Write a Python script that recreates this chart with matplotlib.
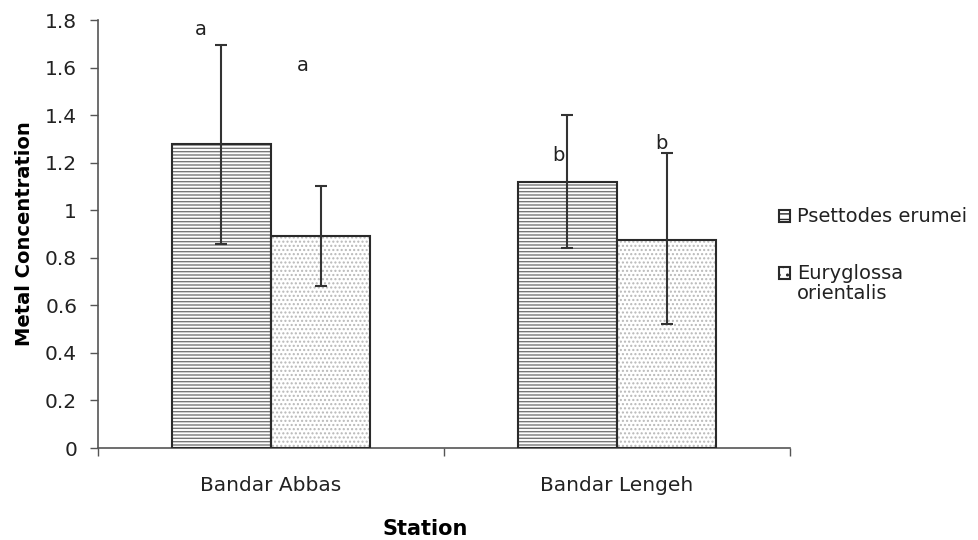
import matplotlib
matplotlib.use('Agg')
import matplotlib.pyplot as plt
import numpy as np

plt.rcParams['font.family'] = ['DejaVu Sans']

# data
stations = ['Bandar Abbas', 'Bandar Lengeh']
species = ['Psettodes erumei', 'Euryglossa\norientalis']
means = [[1.28, 1.12], [0.89, 0.875]]
err_hi = [[1.695, 1.40], [1.10, 1.24]]
err_lo = [[0.86, 0.84], [0.68, 0.52]]
letters = [['a', 'b'], ['a', 'b']]
letter_y = [[1.76, 1.23], [1.61, 1.28]]
letter_dx = [[-0.06, -0.026], [-0.052, -0.014]]

hatches = ['-----', '....']
hatch_cols = ['#787878', '#b8b8b8']
width = 0.287

fig = plt.figure(figsize=(9.79, 5.4), dpi=100)
ax = fig.add_axes([98/979, (540-448)/540, 692/979, 428/540])

x = np.arange(len(stations))
for i in range(len(species)):
    pos = x + (i - 0.5) * width
    m = np.array(means[i])
    ax.bar(pos, m, width, color='white', edgecolor=hatch_cols[i], hatch=hatches[i], linewidth=0, zorder=2)
    ax.bar(pos, m, width, fill=False, edgecolor='#2a2a2a', linewidth=1.5, zorder=3)
    yerr = [m - np.array(err_lo[i]), np.array(err_hi[i]) - m]
    ax.errorbar(pos, m, yerr=yerr, fmt='none', ecolor='#333333', elinewidth=1.5, capsize=4, capthick=1.5, zorder=4)
    for j in range(len(stations)):
        ax.text(pos[j] + letter_dx[i][j], letter_y[i][j], letters[i][j], fontsize=14, ha='center', va='center', color='#222222')

ax.set_xlim(-0.5, 1.5)
ax.set_ylim(0, 1.8)
ax.set_yticks(np.arange(0, 1.81, 0.2))
ax.set_yticklabels(['0', '0.2', '0.4', '0.6', '0.8', '1', '1.2', '1.4', '1.6', '1.8'])
ax.set_xticks([-0.5, 0.5, 1.5])
ax.set_xticklabels([])
ax.set_xticks(x, minor=True)
ax.set_xticklabels(stations, minor=True)
ax.tick_params(axis='x', which='minor', length=0, pad=20, labelsize=14.5, labelcolor='#222222')
ax.tick_params(axis='x', which='major', length=6, width=1, color='#555555')
ax.tick_params(axis='y', length=6, width=1, color='#555555', labelsize=14.5, pad=9, labelcolor='#222222')
for s in ['top', 'right']:
    ax.spines[s].set_visible(False)
for s in ['left', 'bottom']:
    ax.spines[s].set_color('#555555')
    ax.spines[s].set_linewidth(1.2)

ax.set_ylabel('Metal Concentration', fontsize=14, fontweight='bold', labelpad=8)
ax.set_xlabel('Station', fontsize=15, fontweight='heavy', labelpad=12)
ax.xaxis.set_label_coords((425 - 98) / 692, -0.165)

# legend, drawn by hand so the box sits at the first text line
leg_hatch = ['---', '..']
leg_y = [216, 273]
for i in range(len(species)):
    yc = 1 - leg_y[i] / 540
    r = plt.Rectangle((779/979, yc - 6/540), 11/979, 12/540, transform=fig.transFigure,
                      facecolor='white', edgecolor='#2a2a2a', hatch=leg_hatch[i], linewidth=1.5)
    fig.patches.append(r)
    fig.text(797/979, yc + 9/540, species[i], fontsize=14, va='top', ha='left', color='#222222', linespacing=1.1)

fig.savefig('out.png', dpi=100)
